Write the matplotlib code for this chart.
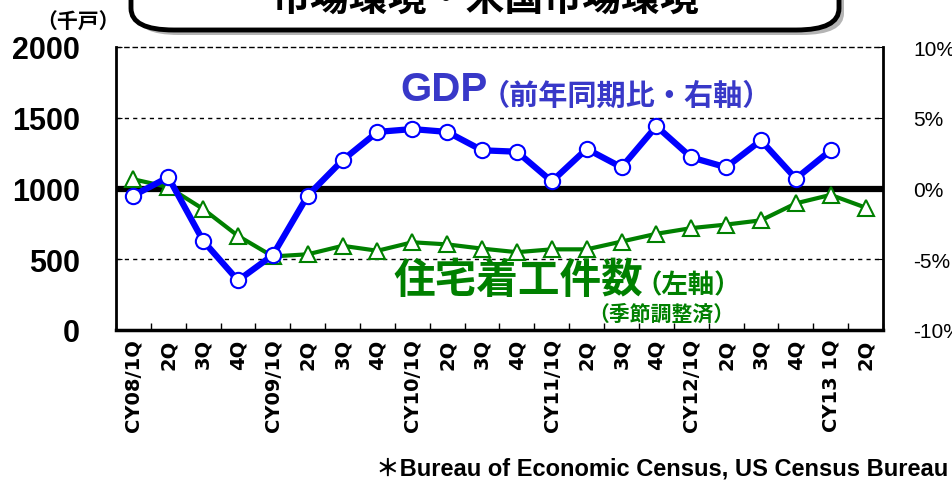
import matplotlib.pyplot as plt
from matplotlib.patches import FancyBboxPatch
import numpy as np

quarters = ['CY08/1Q', '2Q', '3Q', '4Q',
            'CY09/1Q', '2Q', '3Q', '4Q',
            'CY10/1Q', '2Q', '3Q', '4Q',
            'CY11/1Q', '2Q', '3Q', '4Q',
            'CY12/1Q', '2Q', '3Q', '4Q',
            'CY13 1Q', '2Q']
# housing starts, thousand units (left axis)
housing_starts = [1065, 1010, 855, 665, 520, 535, 595, 560, 620, 605, 575,
                  550, 570, 570, 625, 680, 720, 745, 775, 895, 955, 865]
# GDP yoy %, right axis (no value yet for CY13 2Q)
gdp_yoy = [-0.5, 0.8, -3.7, -6.5, -4.7, -0.5, 2.0, 4.0, 4.2, 4.0, 2.7,
           2.6, 0.5, 2.8, 1.5, 4.4, 2.2, 1.5, 3.4, 0.7, 2.7]
left_ticks = [0, 500, 1000, 1500, 2000]
right_ticks = [-10, -5, 0, 5, 10]
right_labels = ['-10%', '-5%', '0%', '5%', '10%']

W, H = 953, 481
latin = ['Liberation Sans', 'DejaVu Sans']
jp = ['Noto Sans CJK JP', 'DejaVu Sans']

fig = plt.figure(figsize=(W / 100, H / 100), dpi=100)

# title box, cut off at the top of the picture
shadow = FancyBboxPatch((136 / W, 1 - 36 / H), 708 / W, 80 / H,
                        boxstyle='round,pad=0,rounding_size=0.045',
                        transform=fig.transFigure, fc='#B4B4B4', ec='none', zorder=1)
box = FancyBboxPatch((131 / W, 1 - 31 / H), 708 / W, 80 / H,
                     boxstyle='round,pad=0,rounding_size=0.045',
                     transform=fig.transFigure, fc='white', ec='black', lw=3.5, zorder=2)
fig.patches.extend([shadow, box])
fig.text(485 / W, 1 - 0 / H, '市場環境・米国市場環境', family=jp, weight='bold',
         fontsize=28, ha='center', va='center', zorder=3)

ax = fig.add_axes([116 / W, 1 - 331 / H, (883 - 116) / W, (331 - 48) / H])
x = np.arange(len(quarters))
ax.set_xlim(-0.5, len(quarters) - 0.5)
ax.set_ylim(0, 2000)

for y in [500, 1500]:
    ax.axhline(y, color='black', lw=1, ls=(0, (3, 3)), zorder=1)
ax.axhline(993, color='#A0A0A0', lw=3, zorder=2)
ax.axhline(1000, color='black', lw=4.5, zorder=2)

ax.plot(x, housing_starts, color='#008000', lw=3, marker='^', markersize=11,
        markerfacecolor='white', markeredgecolor='#008000', markeredgewidth=1.5, zorder=3)

ax.set_yticks(left_ticks)
ax.set_yticklabels([str(v) for v in left_ticks], family=latin, weight='bold', fontsize=22)
ax.tick_params(axis='y', direction='in', length=4, pad=26)

ax.set_xticks(np.arange(len(quarters) + 1) - 0.5)
ax.set_xticklabels([])
ax.tick_params(axis='x', which='major', direction='in', length=5, width=1)
ax.set_xticks(x, minor=True)
ax.set_xticklabels(quarters, minor=True, rotation=90, family=['DejaVu Sans'],
                   weight='bold', fontsize=14, va='top', ha='center')
ax.tick_params(axis='x', which='minor', length=0, pad=6)

ax.spines['left'].set_linewidth(2)
ax.spines['bottom'].set_linewidth(2.5)
ax.spines['right'].set_linewidth(2)
ax.spines['top'].set_linestyle((0, (3, 3)))
ax.spines['top'].set_linewidth(1)

ax2 = ax.twinx()
ax2.set_ylim(-10, 10)
ax2.plot(np.arange(len(gdp_yoy)), gdp_yoy, color='#0000FF', lw=4.5, marker='o',
         markersize=11, markerfacecolor='white', markeredgecolor='#0000FF',
         markeredgewidth=1.5, zorder=4)
ax2.set_yticks(right_ticks)
ax2.set_yticklabels(right_labels, family=latin, fontsize=15)
ax2.tick_params(axis='y', direction='in', length=4, pad=22)
for s in ax2.spines.values():
    s.set_visible(False)

# series labels
fig.text(400 / W, 1 - 90 / H, 'GDP', family=latin, weight='bold', fontsize=29,
         color='#3838C8', ha='left', va='center')
fig.text(481 / W, 1 - 96 / H, '（前年同期比・右軸）', family=jp, weight='bold',
         fontsize=21, color='#3838C8', ha='left', va='center')
fig.text(393 / W, 1 - 281 / H, '住宅着工件数', family=jp, weight='bold', fontsize=30,
         color='#008000', ha='left', va='center')
fig.text(636 / W, 1 - 286 / H, '（左軸）', family=jp, weight='bold', fontsize=19,
         color='#008000', ha='left', va='center')
fig.text(588 / W, 1 - 314 / H, '（季節調整済）', family=jp, weight='bold', fontsize=15,
         color='#008000', ha='left', va='center')

fig.text(36 / W, 1 - 22 / H, '（千戸）', family=jp, weight='bold', fontsize=15,
         ha='left', va='center')
fig.text(948 / W, 1 - 469 / H, '＊Bureau of Economic Census, US Census Bureau',
         family=latin[:1] + jp, weight='bold', fontsize=17, ha='right', va='center')

fig.savefig('out.png', dpi=100)
